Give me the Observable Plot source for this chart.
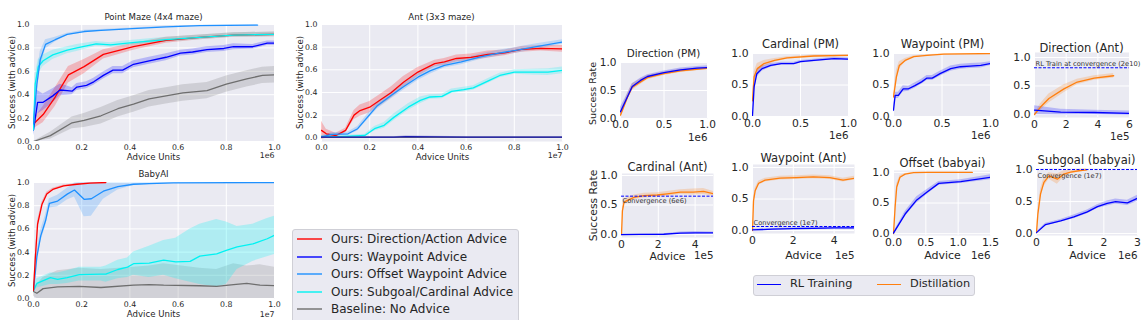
<!DOCTYPE html>
<html><head><meta charset="utf-8">
<script src="https://cdn.jsdelivr.net/npm/d3@7"></script>
<script src="https://cdn.jsdelivr.net/npm/@observablehq/plot@0.6"></script>
<style>
body{margin:0;background:#fff;font-family:"DejaVu Sans",sans-serif;}
#root{position:relative;width:1148px;height:320px;overflow:hidden;background:#fff;}
#root svg{position:absolute;overflow:visible;}
.legend{position:absolute;background:#EAEAF2;border:1px solid #cfcfd6;border-radius:3px;box-sizing:border-box;color:#262626;}
.row{position:absolute;white-space:nowrap;}
.sample{position:absolute;}
</style></head><body><div id="root"></div>
<script>
// ---------- data: [x, y, halfBand] or [x, y, lo, hi] ----------
// Point Maze (4x4), x in 1e6 advice units
const pmDirection = [[0,0.15,0.04],[0.04,0.23,0.07],[0.09,0.38,0.08],[0.145,0.57,0.07],[0.21,0.64,0.06],[0.29,0.745,0.04],[0.415,0.81,0.03],[0.55,0.865,0.025],[0.69,0.89,0.02],[0.83,0.91,0.02],[1.0,0.915,0.02]];
const pmWaypoint = [[0,0.1,0.05],[0.017,0.335,0.1],[0.04,0.335,0.07],[0.08,0.39,0.06],[0.11,0.44,0.05],[0.14,0.435,0.04],[0.16,0.43,0.03],[0.18,0.465,0.03],[0.22,0.48,0.03],[0.25,0.51,0.03],[0.29,0.565,0.03],[0.33,0.61,0.03],[0.37,0.61,0.03],[0.415,0.66,0.03],[0.48,0.69,0.03],[0.55,0.72,0.03],[0.61,0.755,0.025],[0.66,0.765,0.025],[0.72,0.785,0.025],[0.79,0.795,0.025],[0.83,0.81,0.025],[0.91,0.81,0.02],[0.97,0.84,0.02],[1.0,0.84,0.02]];
const pmOffset = [[0,0.15,0.05],[0.014,0.49,0.08],[0.028,0.7,0.07],[0.05,0.83,0.04],[0.09,0.87,0.02],[0.14,0.915,0.01],[0.21,0.94,0.01],[0.28,0.95,0.008],[0.41,0.965,0.005],[0.55,0.98,0.004],[0.69,0.99,0.003],[0.93,0.995,0.003]];
const pmSubgoal = [[0,0.1,0.05],[0.007,0.49,0.08],[0.02,0.64,0.06],[0.04,0.69,0.05],[0.08,0.74,0.04],[0.14,0.78,0.03],[0.18,0.8,0.03],[0.26,0.835,0.02],[0.32,0.825,0.02],[0.36,0.835,0.02],[0.41,0.845,0.02],[0.55,0.87,0.02],[0.69,0.89,0.02],[0.83,0.91,0.02],[1.0,0.915,0.02]];
const pmBaseline = [[0,0,0],[0.07,0.05,0.03],[0.16,0.16,0.05],[0.21,0.18,0.06],[0.28,0.22,0.07],[0.35,0.28,0.07],[0.415,0.32,0.07],[0.48,0.365,0.07],[0.55,0.39,0.07],[0.62,0.415,0.07],[0.72,0.435,0.07],[0.8,0.49,0.07],[0.885,0.535,0.07],[0.95,0.565,0.07],[1.0,0.57,0.07]];
// Ant (3x3), x in 1e7
const antDirection = [[0,0.065,0.08],[0.02,0.035,0.04],[0.06,0.02,0.02],[0.1,0.065,0.02],[0.135,0.2,0.04],[0.16,0.24,0.05],[0.2,0.27,0.05],[0.245,0.335,0.05],[0.29,0.4,0.05],[0.34,0.49,0.05],[0.4,0.58,0.04],[0.47,0.655,0.03],[0.51,0.67,0.03],[0.56,0.7,0.03],[0.62,0.71,0.03],[0.69,0.735,0.03],[0.76,0.75,0.025],[0.83,0.78,0.025],[0.91,0.79,0.025],[1.0,0.785,0.03]];
const antOffset = [[0,0.005,0.01],[0.04,0.03,0.015],[0.11,0.035,0.015],[0.15,0.08,0.02],[0.19,0.18,0.025],[0.23,0.28,0.03],[0.29,0.375,0.03],[0.34,0.45,0.03],[0.4,0.535,0.03],[0.45,0.59,0.03],[0.51,0.64,0.025],[0.58,0.67,0.025],[0.66,0.715,0.025],[0.73,0.745,0.025],[0.8,0.77,0.025],[0.88,0.8,0.025],[1.0,0.845,0.02]];
const antSubgoal = [[0,0.01,0.01],[0.08,0.01,0.01],[0.18,0.02,0.01],[0.22,0.08,0.02],[0.26,0.11,0.025],[0.3,0.18,0.03],[0.36,0.27,0.03],[0.41,0.33,0.03],[0.45,0.36,0.02],[0.5,0.365,0.02],[0.54,0.41,0.02],[0.59,0.425,0.02],[0.63,0.44,0.02],[0.69,0.5,0.02],[0.74,0.55,0.02],[0.8,0.58,0.02],[0.87,0.58,0.025],[0.94,0.58,0.03],[1.0,0.595,0.03]];
const antWaypoint = [[0,0.005,0.005],[0.3,0.005,0.005],[0.35,0.01,0.008],[0.6,0.005,0.005],[1.0,0.005,0.005]];
const antBaseline = [[0,0.003,0.003],[1.0,0.003,0.003]];
// BabyAI, x in 1e7
const babyDirection = [[0,0.07,0.02],[0.007,0.33,0.03],[0.017,0.64,0.03],[0.035,0.81,0.02],[0.055,0.9,0.015],[0.08,0.94,0.01],[0.125,0.97,0.008],[0.18,0.985,0.005],[0.235,0.995,0.003],[0.3,1.0,0.002]];
const babyOffset = [[0,0.07,0.02],[0.014,0.36,0.05],[0.03,0.54,0.05],[0.05,0.67,0.05],[0.066,0.82,0.04],[0.1,0.84,0.05],[0.14,0.9,0.05],[0.17,0.935,0.06],[0.21,0.855,0.15],[0.24,0.86,0.15],[0.29,0.925,0.07],[0.35,0.965,0.03],[0.415,0.985,0.01],[0.48,0.99,0.008],[0.58,0.997,0.003],[1.0,1.0,0.001]];
const babySubgoal = [[0,0.07,0.05,0.09],[0.014,0.13,0.09,0.17],[0.07,0.18,0.12,0.22],[0.1,0.165,0.12,0.22],[0.14,0.18,0.13,0.24],[0.19,0.205,0.15,0.27],[0.28,0.21,0.15,0.27],[0.3,0.21,0.14,0.28],[0.35,0.25,0.17,0.33],[0.39,0.27,0.18,0.35],[0.415,0.3,0.2,0.4],[0.48,0.305,0.18,0.45],[0.54,0.33,0.2,0.5],[0.59,0.315,0.17,0.52],[0.65,0.32,0.14,0.6],[0.69,0.365,0.12,0.64],[0.76,0.385,0.1,0.68],[0.8,0.415,0.12,0.66],[0.845,0.445,0.25,0.62],[0.91,0.47,0.32,0.64],[0.97,0.515,0.36,0.69],[1.0,0.545,0.38,0.71]];
const babyBaseline = [[0,0.06,0.02,0.1],[0.014,0.045,0,0.12],[0.04,0.085,0,0.18],[0.1,0.1,0,0.24],[0.19,0.105,0,0.26],[0.28,0.095,0,0.25],[0.415,0.115,0,0.27],[0.48,0.12,0,0.28],[0.54,0.115,0,0.3],[0.69,0.11,0,0.26],[0.76,0.105,0,0.25],[0.83,0.12,0,0.3],[0.885,0.13,0,0.28],[0.94,0.115,0,0.29],[1.0,0.11,0,0.27]];
// Distillation vs RL panels
const dirPmRL = [[0,0.12,0.08],[0.06,0.32,0.06],[0.135,0.57,0.05],[0.23,0.68,0.04],[0.31,0.75,0.03],[0.5,0.82,0.03],[0.69,0.87,0.03],[0.88,0.9,0.03],[1.0,0.91,0.03]];
const dirPmDistill = [[0,0.06,0.05],[0.08,0.38,0.06],[0.135,0.56,0.06],[0.31,0.73,0.04],[0.5,0.8,0.03],[0.69,0.85,0.03],[1.0,0.895,0.02]];
const cardPmRL = [[0,0.015,0.02],[0.017,0.47,0.08],[0.045,0.68,0.06],[0.1,0.76,0.04],[0.19,0.81,0.03],[0.3,0.84,0.02],[0.43,0.84,0.02],[0.5,0.87,0.02],[0.64,0.89,0.02],[0.85,0.92,0.02],[1.0,0.91,0.02]];
const cardPmDistill = [[0,0.25,0.1],[0.017,0.63,0.08],[0.05,0.76,0.08],[0.12,0.84,0.05],[0.23,0.89,0.03],[0.36,0.93,0.02],[0.64,0.96,0.015],[1.0,0.97,0.01]];
const wayPmRL = [[0,0.1,0.05],[0.017,0.335,0.05],[0.05,0.335,0.05],[0.1,0.44,0.05],[0.155,0.44,0.04],[0.22,0.49,0.04],[0.29,0.55,0.04],[0.345,0.61,0.04],[0.4,0.61,0.04],[0.48,0.68,0.04],[0.59,0.76,0.04],[0.69,0.79,0.04],[0.79,0.8,0.04],[0.9,0.81,0.04],[1.0,0.84,0.03]];
const wayPmDistill = [[0,0.31,0.05],[0.03,0.63,0.1],[0.06,0.81,0.06],[0.12,0.89,0.03],[0.21,0.95,0.015],[0.345,0.97,0.01],[0.52,0.99,0.005],[1.0,1.0,0.003]];
const dirAntRL = [[0,0.075,0.08],[1.65,0.04,0.05],[3.77,0.035,0.04],[6,0.02,0.04]];
const dirAntDistill = [[0,0,0.01],[0.38,0.13,0.06],[0.91,0.28,0.08],[1.86,0.45,0.07],[2.7,0.57,0.05],[3.77,0.64,0.04],[5.0,0.68,0.04]];
const cardAntRL = [[0,0,0.005],[1,0.002,0.005],[2.3,0.005,0.01],[3.2,0.025,0.02],[4,0.03,0.02],[5,0.03,0.015]];
const cardAntDistill = [[0,0,0.02],[0.05,0.4,0.05],[0.14,0.55,0.05],[0.32,0.58,0.04],[0.68,0.63,0.04],[1.22,0.66,0.04],[1.94,0.67,0.04],[2.48,0.69,0.04],[3.2,0.72,0.04],[3.9,0.72,0.05],[4.46,0.73,0.05],[5,0.69,0.04]];
const wayAntRL = [[0,0.01,0.01],[1,0.02,0.01],[2,0.03,0.015],[3,0.035,0.015],[4,0.04,0.015],[5,0.04,0.015]];
const wayAntDistill = [[0,0,0.02],[0.05,0.47,0.05],[0.13,0.63,0.04],[0.3,0.75,0.03],[0.62,0.8,0.03],[1.35,0.83,0.03],[2.16,0.84,0.03],[2.98,0.85,0.03],[3.79,0.84,0.03],[4.44,0.8,0.03],[5,0.83,0.03]];
const offBabyRL = [[0,0.01,0.01],[0.18,0.32,0.04],[0.36,0.55,0.05],[0.52,0.68,0.04],[0.7,0.82,0.03],[1.04,0.85,0.03],[1.5,0.92,0.04]];
const offBabyDistill = [[0,0,0.01],[0.025,0.43,0.05],[0.05,0.76,0.05],[0.1,0.92,0.03],[0.18,0.97,0.01],[0.31,0.995,0.005],[0.52,1.0,0.002],[1.22,1.0,0.002]];
const subBabyRL = [[0,0.015,0.01],[0.27,0.14,0.02],[0.72,0.2,0.02],[1.11,0.26,0.03],[1.51,0.34,0.03],[1.81,0.42,0.03],[2.1,0.47,0.04],[2.35,0.5,0.04],[2.7,0.48,0.04],[3,0.55,0.05]];
const subBabyDistill = [[0,0.015,0.01],[0.04,0.3,0.05],[0.12,0.62,0.07],[0.22,0.8,0.07],[0.37,0.9,0.05],[0.62,0.85,0.08],[0.81,0.93,0.05],[1.01,0.96,0.03],[1.31,0.985,0.02],[1.49,0.995,0.02]];
// reference (convergence) levels
const refDirAnt = [0.82], refCardAnt = [0.65], refWayAnt = [0.063], refSubBaby = [1.0];
// ticks
const ticks01 = [0,0.2,0.4,0.6,0.8,1.0];
const ticksHalf = [0,0.5,1.0];
const legendLeft = ["Ours: Direction/Action Advice","Ours: Waypoint Advice","Ours: Offset Waypoint Advice","Ours: Subgoal/Cardinal Advice","Baseline: No Advice"];
const legendRight = ["RL Training","Distillation"];

const C = {red:"#ff0000", blue:"#0000ff", offset:"#1e90ff", cyan:"#00f2f2", gray:"#6e6e6e", orange:"#ff7f0e"};
const TXT = "#262626";
const root = document.getElementById("root");
const f1 = d => d.toFixed(1), fi = d => d3.format("d")(d);

function lo(d){return d.length>3?d[2]:d[1]-d[2];}
function hi(d){return d.length>3?d[3]:d[1]+d[2];}

function panel(c){
  const [x0,y0,x1,y1] = c.rect;
  const cx = (x0+x1)/2, cy=(y0+y1)/2;
  const marks = [
    Plot.frame({fill:"#EAEAF2", stroke:null}),
    Plot.ruleX(c.xTicks, {stroke:"white", strokeWidth:1}),
    Plot.ruleY(c.yTicks, {stroke:"white", strokeWidth:1}),
  ];
  for (const s of c.series) marks.push(Plot.areaY(s.data, {x:d=>d[0], y1:lo, y2:hi, fill:s.color, fillOpacity:s.op ?? 0.22, clip:true}));
  for (const s of c.series) marks.push(Plot.line(s.data, {x:d=>d[0], y:d=>d[1], stroke:s.color, strokeWidth:c.lw ?? 1.3, clip:true}));
  if (c.ref) {
    marks.push(Plot.ruleY(c.ref.v, {stroke:"#0000ff", strokeWidth:1, strokeDasharray:"3,1.5"}));
    marks.push(Plot.text(c.ref.v, {x:c.xDomain[0], y:d=>d, text:()=>c.ref.label, textAnchor:"start", dx:1, dy:c.ref.dy, fontSize:6.7, fill:"#333"}));
  }
  marks.push(Plot.axisX({ticks:c.xTicks, tickFormat:c.xFmt, tickSize:0, tickPadding:c.xPad, fontSize:c.fs, label:null}));
  marks.push(Plot.axisY({ticks:c.yTicks, tickFormat:f1, tickSize:0, tickPadding:c.yPad, fontSize:c.fs, label:null}));
  const T = (str, x, y, size, opt={}) => Plot.text([str], {frameAnchor:"middle", text:d=>d, dx:x-cx, dy:y-cy, fontSize:size, fill:TXT, ...opt});
  marks.push(T(c.title, c.title_at[0], c.title_at[1], c.tfs));
  if (c.ylabel) marks.push(T(c.ylabel, c.ylabel_at[0], c.ylabel_at[1], c.lfs, {rotate:-90}));
  if (c.xlabel) marks.push(T(c.xlabel, c.xlabel_at[0], c.xlabel_at[1], c.lfs));
  marks.push(T(c.offset, x1, c.offset_y, c.ofs ?? c.fs, {textAnchor:"end"}));
  const svg = Plot.plot({
    width:x1-x0, height:y1-y0, marginTop:0, marginRight:0, marginBottom:0, marginLeft:0,
    style:{background:"transparent", overflow:"visible", color:TXT, fontFamily:"DejaVu Sans"},
    x:{domain:c.xDomain}, y:{domain:c.yDomain},
    marks
  });
  svg.style.left = x0+"px"; svg.style.top = y0+"px";
  root.appendChild(svg);
}

const L = {fs:7.8, tfs:8.6, lfs:8.6, xPad:2.5, yPad:4, xTicks:ticks01, yTicks:ticks01, xFmt:f1, xDomain:[0,1]};
panel({...L, rect:[33,24,274,141], yDomain:[0,1], title:"Point Maze (4x4 maze)", title_at:[153,17],
  ylabel:"Success (with advice)", ylabel_at:[12,82], xlabel:"Advice Units", xlabel_at:[153,157], offset:"1e6", offset_y:155,
  series:[{data:pmBaseline,color:C.gray},{data:pmDirection,color:C.red},{data:pmWaypoint,color:C.blue},{data:pmSubgoal,color:C.cyan},{data:pmOffset,color:C.offset}]});
panel({...L, rect:[321,24,562,141], yDomain:[-0.033,1], title:"Ant (3x3 maze)", title_at:[441,17],
  ylabel:"Success (with advice)", ylabel_at:[300,82], xlabel:"Advice Units", xlabel_at:[442,157], offset:"1e7", offset_y:155,
  series:[{data:antDirection,color:C.red},{data:antSubgoal,color:C.cyan},{data:antOffset,color:C.offset},{data:antBaseline,color:C.gray},{data:antWaypoint,color:"#1a1ab0"}]});
panel({...L, rect:[33,182,274,298], yDomain:[0,1], title:"BabyAI", title_at:[153,174],
  ylabel:"Success (with advice)", ylabel_at:[12,240], xlabel:"Advice Units", xlabel_at:[153,314], offset:"1e7", offset_y:314,
  series:[{data:babyBaseline,color:C.gray,op:0.2},{data:babySubgoal,color:C.cyan,op:0.25},{data:babyOffset,color:C.offset},{data:babyDirection,color:C.red}]});

const R = {fs:10.8, ofs:10.3, tfs:11.5, lfs:11, xPad:2.5, yPad:4, yTicks:ticksHalf, lw:1.3};
panel({...R, fs:10.5, tfs:10.4, rect:[620,62,707,118], xDomain:[0,1], xTicks:ticksHalf, xFmt:f1, yDomain:[0,1],
  title:"Direction (PM)", title_at:[663,53], ylabel:"Success Rate", ylabel_at:[592,93], lfs:9.5, offset:"1e6", offset_y:137,
  series:[{data:dirPmDistill,color:C.orange},{data:dirPmRL,color:C.blue}]});
panel({...R, rect:[752,53,848,116], xDomain:[0,1], xTicks:ticksHalf, xFmt:f1, yDomain:[0,1],
  title:"Cardinal (PM)", title_at:[800,44], offset:"1e6", offset_y:135,
  series:[{data:cardPmDistill,color:C.orange},{data:cardPmRL,color:C.blue}]});
panel({...R, rect:[893,53,990,116], xDomain:[0,1], xTicks:ticksHalf, xFmt:f1, yDomain:[0,1],
  title:"Waypoint (PM)", title_at:[942,44], offset:"1e6", offset_y:135,
  series:[{data:wayPmDistill,color:C.orange},{data:wayPmRL,color:C.blue}]});
panel({...R, rect:[1034,52,1129,117], xDomain:[0,6], xTicks:[0,2,4,6], xFmt:fi, yDomain:[-0.053,1.088],
  title:"Direction (Ant)", title_at:[1081,48], offset:"1e5", offset_y:136,
  ref:{v:refDirAnt, label:"RL Train at convergence (2e10)", dy:-4},
  series:[{data:dirAntDistill,color:C.orange},{data:dirAntRL,color:C.blue}]});
panel({...R, rect:[621,173,713,237], xDomain:[0,5], xTicks:[0,2,4], xFmt:fi, yDomain:[-0.05,1.034],
  title:"Cardinal (Ant)", title_at:[667,167], ylabel:"Success Rate", ylabel_at:[593,205], lfs:10.8, xlabel:"Advice", xlabel_at:[667,256], offset:"1e5", offset_y:255,
  ref:{v:refCardAnt, label:"Convergence (6e6)", dy:5},
  series:[{data:cardAntDistill,color:C.orange},{data:cardAntRL,color:C.blue}]});
panel({...R, rect:[752,164,854,233], xDomain:[0,5], xTicks:[0,2,4], xFmt:fi, yDomain:[-0.048,1.048],
  title:"Waypoint (Ant)", title_at:[803,158], xlabel:"Advice", xlabel_at:[803,255], offset:"1e5", offset_y:255,
  ref:{v:refWayAnt, label:"Convergence (1e7)", dy:-4},
  series:[{data:wayAntDistill,color:C.orange},{data:wayAntRL,color:C.blue}]});
panel({...R, rect:[893,170,990,235], xDomain:[0,1.5], xTicks:[0,0.5,1,1.5], xFmt:f1, yDomain:[-0.03,1.03],
  title:"Offset (babyai)", title_at:[942,163], xlabel:"Advice", xlabel_at:[942,255], offset:"1e6", offset_y:255,
  series:[{data:offBabyDistill,color:C.orange},{data:offBabyRL,color:C.blue}]});
panel({...R, rect:[1036,168,1137,235], xDomain:[0,3], xTicks:[0,1,2,3], xFmt:fi, yDomain:[-0.03,1.016],
  title:"Subgoal (babyai)", title_at:[1086,160], xlabel:"Advice", xlabel_at:[1087,255], offset:"1e6", offset_y:255,
  ref:{v:refSubBaby, label:"Convergence (1e7)", dy:6},
  series:[{data:subBabyDistill,color:C.orange},{data:subBabyRL,color:C.blue}]});

// legends: box [x0,y0,x1,y1]; each item placed at {y, line:[xa,xb], tx}
function legend(box, labels, colors, pos, fs, lw, op){
  const d = document.createElement("div");
  d.className = "legend";
  Object.assign(d.style, {left:box[0]+"px", top:box[1]+"px", width:(box[2]-box[0])+"px", height:(box[3]-box[1])+"px"});
  root.appendChild(d);
  labels.forEach((t,i)=>{
    const p = pos[i];
    const s = document.createElement("div");
    s.className="sample";
    Object.assign(s.style,{left:p.line[0]+"px", top:Math.round(p.y-lw/2)+"px", width:(p.line[1]-p.line[0])+"px", height:lw+"px", background:colors[i], opacity:op});
    root.appendChild(s);
    const r = document.createElement("div");
    r.className="row"; r.textContent=t;
    Object.assign(r.style,{left:p.tx+"px", top:(p.y-fs*0.62)+"px", fontSize:fs+"px", lineHeight:"1.2", color:TXT});
    root.appendChild(r);
  });
}
legend([292,229,519,330], legendLeft, [C.red,C.blue,C.offset,C.cyan,C.gray],
  [239,257,274,292,309].map(y=>({y, line:[297,322], tx:331})), 12, 2, 0.7);
legend([753,275,975,296], legendRight, [C.blue,C.orange],
  [{y:284, line:[757,781], tx:790},{y:284, line:[877,901], tx:910}], 11.3, 1, 1);
</script></body></html>
